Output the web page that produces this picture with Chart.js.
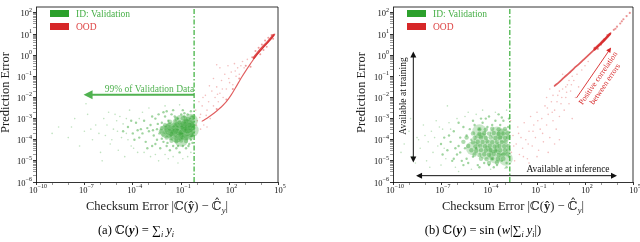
<!DOCTYPE html><html><head>
<meta charset="utf-8">
<title>Checksum error vs prediction error</title>
<style>
  body { margin: 0; background: #fff; width: 640px; height: 242px; position: relative; overflow: hidden; }
  canvas { position: absolute; top: 0; }
</style>
</head>
<body>
<canvas id="left" width="320" height="242" style="left:0"></canvas>
<canvas id="right" width="320" height="242" style="left:320px"></canvas>
<script src="https://cdn.jsdelivr.net/npm/chart.js"></script>
<script>
// all values are log10 exponents: [log10 checksum error, log10 prediction error]
const xTickExps = [-10, -7, -4, -1, 2, 5];
const yTickExps = [-6, -5, -4, -3, -2, -1, 0, 1, 2];
const seriesNames = ['ID: Validation', 'OOD'];
const thresholdA = -0.2;   // 99% of validation data, panel (a)
const thresholdB = -2.7;   // panel (b)

// panel (a)
const idBlobA = [[-1.6,-3.5],[-1.1,-3.45],[-0.6,-3.35],[-1.3,-3.8],[-0.7,-3.7],[-1.9,-3.6],[-0.4,-3.1],
  [-1.0,-3.15],[-1.0,-4.0],[-0.35,-3.55]];
const idCoreA = [[-1.3,-3.0],[-0.9,-2.98],[-0.6,-3.02],[-0.35,-2.95],
  [-1.7,-3.15],[-1.4,-3.14],[-1.1,-3.17],[-0.8,-3.13],[-0.5,-3.16],[-0.28,-3.12],
  [-2.0,-3.3],[-1.75,-3.28],[-1.5,-3.32],[-1.25,-3.29],[-1.0,-3.31],[-0.75,-3.27],[-0.5,-3.3],[-0.3,-3.28],
  [-2.2,-3.45],[-1.95,-3.44],[-1.7,-3.47],[-1.45,-3.43],[-1.2,-3.46],[-0.95,-3.44],[-0.7,-3.46],[-0.45,-3.43],[-0.25,-3.45],
  [-2.25,-3.6],[-2.0,-3.62],[-1.75,-3.58],[-1.5,-3.61],[-1.25,-3.59],[-1.0,-3.62],[-0.75,-3.6],[-0.5,-3.58],[-0.27,-3.6],
  [-2.1,-3.75],[-1.85,-3.77],[-1.6,-3.74],[-1.35,-3.76],[-1.1,-3.73],[-0.85,-3.76],[-0.6,-3.74],[-0.35,-3.77],
  [-1.9,-3.9],[-1.65,-3.92],[-1.4,-3.89],[-1.15,-3.91],[-0.9,-3.9],[-0.65,-3.88],[-0.4,-3.91],
  [-1.6,-4.05],[-1.3,-4.07],[-1.0,-4.04],[-0.7,-4.06]];
const idMidA = [[-4.3,-3.4],[-4.0,-3.7],[-3.8,-3.2],[-3.6,-3.9],[-3.5,-3.5],[-3.3,-3.1],[-3.2,-4.1],
  [-3.0,-3.6],[-2.9,-3.3],[-2.8,-4.3],[-2.7,-3.8],[-2.6,-3.0],[-2.5,-4.0],[-2.5,-3.5],[-2.4,-2.8],
  [-2.3,-4.4],[-2.2,-3.2],[-2.1,-4.1],[-2.0,-2.9],[-1.9,-4.3],[-1.8,-3.1],[-1.7,-4.5],[-1.6,-2.8],
  [-1.5,-4.3],[-1.4,-2.9],[-1.3,-4.4],[-1.2,-3.0],[-1.1,-4.6],[-1.0,-2.8],[-0.9,-4.3],[-0.8,-2.9],
  [-0.7,-4.4],[-0.6,-2.8],[-0.5,-4.2],[-0.45,-3.0],[-0.4,-4.0],[-0.3,-2.9],[-0.3,-3.8],[-0.25,-3.4],
  [-0.22,-3.0],[-0.22,-3.7],[-2.8,-2.9],[-3.1,-4.4],[-3.9,-4.0],[-4.6,-3.6],[-1.5,-2.6],[-0.9,-2.6],[-0.4,-2.65],
  [-3.4,-3.7],[-3.1,-3.45],[-2.75,-3.55],[-2.6,-4.2],[-2.35,-3.7],[-2.2,-3.95],[-2.45,-3.25],[-2.1,-2.7],
  [-1.85,-4.15],[-1.2,-4.3],[-0.55,-4.3],[-0.3,-4.15],[-0.8,-2.75],[-1.9,-2.65],[-4.1,-3.1],[-3.7,-3.55]];
const idSparseA = [[-8.6,-3.4],[-8.0,-3.9],[-7.6,-3.0],[-7.3,-4.3],[-7.0,-3.6],[-6.8,-2.8],[-6.5,-4.0],
  [-6.3,-3.3],[-6.0,-4.6],[-5.8,-3.0],[-5.7,-3.8],[-5.5,-2.7],[-5.4,-4.2],[-5.2,-3.5],[-5.0,-3.1],
  [-4.9,-4.5],[-4.8,-2.9],[-4.7,-3.9],[-4.5,-4.8],[-4.4,-3.0],[-4.2,-2.6],[-4.1,-4.3],[-3.7,-4.6],
  [-3.4,-2.7],[-2.9,-4.8],[-2.4,-5.0],[-1.8,-4.9],[-1.2,-5.1],[-0.6,-4.8],[-3.0,-2.5],[-2.0,-2.4],
  [-1.1,-2.35],[-6.9,-2.3],[-9.0,-3.7],[-5.9,-5.0],[-6.1,-3.7],[-5.6,-3.3],[-5.3,-4.0],[-4.95,-3.6],
  [-4.6,-3.25],[-4.3,-4.0],[-3.95,-4.4],[-3.6,-3.0],[-3.3,-4.6],[-2.6,-4.7],[-2.0,-4.7],[-1.5,-4.8],
  [-0.9,-4.9],[-0.4,-4.6],[-7.8,-3.4],[-6.6,-3.5],[-5.1,-2.8],[-4.4,-3.7]];
const oodLineA = [[0.3,-3.12],[0.6,-2.98],[0.9,-2.82],[1.2,-2.64],[1.5,-2.44],[1.8,-2.2],[2.1,-1.88],
  [2.4,-1.5],[2.7,-1.1],[3.0,-0.74],[3.3,-0.4],[3.6,-0.07],[3.9,0.2],[4.2,0.46],[4.5,0.72],[4.8,1.0]];
const oodThickA = [[3.5,-0.12],[3.8,0.16],[4.1,0.42],[4.4,0.66],[4.72,0.95]];
const oodBandA = [[3.4,-0.1],[3.6,0.2],[3.8,0.35],[4.0,0.5],[4.2,0.7],[4.4,0.82],[3.9,0.05],[4.1,0.25],
  [4.3,0.4],[3.3,-0.55],[3.0,-0.5],[2.6,-1.1],[2.2,-1.6],[1.8,-2.1],[1.2,-2.55],[4.6,0.95],[4.7,0.78]];
const oodCloudA = [[-0.1,-2.6],[0.0,-3.1],[0.1,-2.2],[0.2,-2.8],[0.3,-2.4],[0.4,-3.3],[0.5,-1.9],
  [0.6,-2.6],[0.7,-2.2],[0.8,-3.0],[0.9,-1.7],[1.0,-2.4],[1.1,-2.0],[1.2,-1.5],[1.3,-2.2],[1.4,-0.6],
  [1.4,-1.8],[1.5,-1.2],[1.6,-2.0],[1.7,-0.9],[1.8,-1.6],[1.9,-0.5],[2.0,-1.3],[2.1,-0.8],[2.2,-1.4],
  [2.3,-0.4],[2.4,-1.0],[2.5,-0.6],[2.6,-0.9],[2.8,-0.3],[2.9,-0.6],[3.1,-0.2],[1.2,-0.45],[0.6,-3.4],
  [-0.05,-3.3],[0.2,-3.5],[1.0,-1.1],[2.7,-0.5],[0.35,-2.0],[0.75,-1.45],[1.55,-1.6],[1.95,-1.1],
  [0.15,-2.95],[0.55,-2.85],[1.25,-1.85],[2.35,-0.75]];

// panel (b)
const idBlobB = [[-4.5,-4.0],[-3.8,-4.3],[-3.2,-4.4],[-3.1,-3.8],[-4.2,-4.6],[-3.6,-4.8],[-5.0,-4.4],
  [-3.5,-3.7],[-2.95,-4.9],[-4.6,-3.6]];
const idCoreB = [[-4.6,-3.5],[-4.2,-3.52],[-3.8,-3.48],[-3.4,-3.51],[-3.0,-3.49],
  [-5.0,-3.7],[-4.6,-3.72],[-4.3,-3.69],[-4.0,-3.71],[-3.7,-3.68],[-3.4,-3.72],[-3.1,-3.7],[-2.85,-3.69],
  [-5.4,-3.9],[-4.9,-3.92],[-4.5,-3.89],[-4.2,-3.91],[-3.9,-3.88],[-3.6,-3.92],[-3.3,-3.9],[-3.0,-3.91],[-2.8,-3.89],
  [-5.6,-4.1],[-5.0,-4.12],[-4.7,-4.09],[-4.4,-4.11],[-4.1,-4.08],[-3.8,-4.12],[-3.5,-4.1],[-3.2,-4.11],[-2.95,-4.09],
  [-5.3,-4.3],[-4.85,-4.32],[-4.55,-4.29],[-4.25,-4.31],[-3.95,-4.28],[-3.65,-4.32],[-3.35,-4.3],[-3.05,-4.31],[-2.8,-4.29],
  [-5.1,-4.5],[-4.8,-4.52],[-4.5,-4.49],[-4.2,-4.51],[-3.9,-4.48],[-3.6,-4.52],[-3.3,-4.5],[-3.0,-4.49],[-2.78,-4.5],
  [-4.9,-4.7],[-4.6,-4.72],[-4.3,-4.69],[-4.0,-4.71],[-3.7,-4.68],[-3.4,-4.72],[-3.1,-4.7],[-2.85,-4.69],
  [-4.5,-4.9],[-4.15,-4.92],[-3.8,-4.89],[-3.45,-4.91],[-3.1,-4.9],[-4.0,-5.1],[-3.5,-5.08]];
const idMidB = [[-6.4,-4.1],[-6.2,-3.6],[-6.0,-4.7],[-5.9,-4.3],[-5.8,-3.9],[-5.7,-5.0],[-5.6,-3.4],
  [-5.5,-4.4],[-5.4,-3.8],[-5.3,-5.1],[-5.2,-3.5],[-5.1,-4.0],[-5.0,-4.8],[-4.9,-3.3],[-4.8,-4.4],
  [-4.7,-5.2],[-4.6,-3.5],[-4.4,-3.2],[-4.3,-5.1],[-4.1,-3.4],[-4.0,-5.2],[-3.8,-3.3],[-3.8,-4.9],
  [-3.6,-3.1],[-3.5,-5.2],[-3.3,-3.3],[-3.2,-5.0],[-3.1,-3.1],[-2.9,-5.1],[-2.8,-3.4],[-2.75,-4.8],
  [-2.75,-3.0],[-6.6,-4.5],[-6.8,-3.9],[-4.5,-3.0],[-4.0,-2.9],[-3.4,-2.8],[-5.6,-5.2],[-6.3,-5.0],
  [-7.0,-4.2],[-6.5,-3.8],[-6.1,-4.4],[-5.9,-3.2],[-5.4,-4.9],[-5.0,-3.1],[-4.6,-5.3],[-4.2,-3.0],
  [-3.7,-5.3],[-3.2,-2.95],[-2.9,-5.3],[-6.9,-4.7],[-6.2,-4.9],[-5.8,-4.6]];
const idSparseB = [[-9.3,-4.2],[-9.0,-3.6],[-8.8,-4.8],[-8.5,-3.9],[-8.3,-4.4],[-8.1,-3.3],[-7.9,-5.0],
  [-7.8,-4.1],[-7.6,-3.6],[-7.5,-4.6],[-7.3,-3.1],[-7.2,-4.3],[-7.0,-5.2],[-6.9,-3.5],[-6.7,-4.9],
  [-6.5,-3.2],[-7.7,-5.3],[-8.6,-5.1],[-6.1,-5.3],[-5.5,-2.9],[-6.0,-3.0],[-4.8,-2.8],[-5.1,-5.4],
  [-3.9,-5.4],[-3.0,-5.35],[-8.9,-3.0],[-6.6,-2.4],[-2.9,-2.6],[-8.0,-3.8],[-7.4,-3.9],[-7.1,-3.4],
  [-6.8,-4.4],[-6.4,-3.5],[-8.4,-4.0],[-9.5,-4.6],[-5.3,-2.7],[-4.4,-2.6],[-3.6,-2.7],[-5.9,-5.5]];
const oodLineB = [[0.1,-1.45],[0.4,-1.26],[0.7,-1.05],[1.0,-0.85],[1.3,-0.63],[1.6,-0.43],[1.9,-0.22],
  [2.2,-0.01],[2.5,0.2],[2.8,0.41],[3.1,0.62],[3.35,0.83],[3.6,1.04]];
const oodThickB = [[2.6,0.28],[2.9,0.5],[3.2,0.72],[3.55,1.0]];
const oodBandB = [[3.0,0.5],[3.2,0.75],[3.4,0.95],[2.8,0.3],[2.6,0.35],
  [3.8,1.2],[4.0,1.35],[4.2,1.5],[4.4,1.7],[4.6,1.85],[4.8,2.0],[3.9,1.25],[4.3,1.6]];
const oodCloudB = [[-2.6,-4.6],[-2.5,-3.8],[-2.4,-5.0],[-2.3,-4.2],[-2.2,-3.4],[-2.1,-4.7],[-2.0,-3.9],
  [-1.9,-4.4],[-1.8,-3.2],[-1.7,-4.0],[-1.6,-4.9],[-1.5,-3.6],[-1.4,-2.9],[-1.3,-4.3],[-1.2,-3.3],
  [-1.1,-3.9],[-1.0,-2.7],[-0.9,-4.5],[-0.8,-3.5],[-0.7,-3.0],[-0.6,-4.1],[-0.5,-2.4],[-0.4,-3.3],
  [-0.3,-2.8],[-0.2,-3.9],[-0.1,-2.2],[0.0,-3.1],[0.1,-2.6],[0.2,-3.5],[0.3,-1.9],[0.4,-2.9],[0.5,-2.3],
  [0.6,-1.6],[0.7,-2.6],[0.8,-2.0],[0.9,-1.4],[1.0,-2.3],[1.1,-1.7],[1.3,-1.2],[1.4,-2.0],[1.6,-1.5],
  [-2.65,-3.1],[-1.5,-5.1],[-0.3,-4.6],[0.4,-4.0],[1.2,-3.0],[0.0,-1.9],[0.4,-1.7],[0.8,-1.5],
  [1.0,-1.2],[1.2,-1.0],[1.5,-0.9],[0.6,-0.9],[1.8,-0.7],[2.0,-0.5],[2.2,-0.3],[-0.2,-1.6],[-0.4,-2.0],
  [-2.45,-4.3],[-2.15,-3.7],[-1.85,-4.8],[-1.55,-4.2],[-1.25,-3.6],[-0.95,-3.1],[-0.65,-3.7],
  [-0.35,-2.5],[-0.05,-2.7],[0.25,-2.2],[0.55,-2.0],[0.85,-1.75],[1.15,-1.4],[-1.0,-4.8],[0.1,-4.2]];

// annotations (log10 coords)
const arrow99 = { y: -1.87, from: thresholdA, to: -7.05 };
const trainArrow = { x: -8.73, from: -5.08, to: 0.17 };
const inferArrow = { y: -5.70, from: -8.56, to: 4.0 };
const corrArrow = { x0: 1.47, y0: -2.02, x1: 3.63, y1: 0.36 };

const X_MIN = -10, X_MAX = 5, Y_MIN = -6, Y_MAX = 2.28;
const GREEN = [44, 160, 44], RED = [214, 39, 40];
const SERIF = "'Liberation Serif','DejaVu Serif',serif";
const F = (n, s) => (s ? s + ' ' : '') + n + 'px ' + SERIF;
const rgba = (c, a) => 'rgba(' + c.join(',') + ',' + a + ')';
const isPow10 = v => { const l = Math.log10(v); return Math.abs(l - Math.round(l)) < 1e-9; };

function pts(arr) { return arr.map(p => ({ x: 10 ** p[0], y: 10 ** p[1] })); }
function dots(arr, c, a, r) {
  return { type: 'scatter', data: pts(arr), backgroundColor: rgba(c, a), borderWidth: 0,
    pointRadius: r, pointHoverRadius: r, pointBorderWidth: 0 };
}
function band(arr, c, a, w) {
  return { type: 'line', data: pts(arr), borderColor: rgba(c, a), borderWidth: w, pointRadius: 0,
    fill: false, tension: 0.4, cubicInterpolationMode: 'monotone', borderCapStyle: 'round' };
}

function logAxis(pos, lo, hi, size, minor) {
  return {
    type: 'logarithmic', position: pos, min: 10 ** lo, max: 10 ** hi,
    afterBuildTicks: s => {
      const t = [];
      for (let e = Math.ceil(lo); e <= Math.floor(hi); e++) {
        t.push({ value: 10 ** e });
        if (minor) for (let k = 2; k < 10; k++) if (e + Math.log10(k) < hi) t.push({ value: k * 10 ** e });
      }
      s.ticks = t;
    },
    afterFit: s => { if (pos === 'left') s.width = size; else s.height = size; },
    ticks: { display: false, autoSkip: false },
    grid: { drawOnChartArea: false, tickLength: 3, tickColor: '#000',
      tickWidth: c => (c.tick && isPow10(c.tick.value) && (pos === 'left' || xTickExps.includes(Math.round(Math.log10(c.tick.value))))) ? 0.8 : 0.4 },
    border: { color: '#000', width: 0.8 }
  };
}

function rich(ctx, parts, x, y, align) {
  ctx.textAlign = 'left';
  let w = 0;
  parts.forEach(p => { ctx.font = p[1]; w += ctx.measureText(p[0]).width; });
  let cx = align === 'center' ? x - w / 2 : (align === 'right' ? x - w : x);
  parts.forEach(p => { ctx.font = p[1]; ctx.fillText(p[0], cx, y + (p[2] || 0)); cx += ctx.measureText(p[0]).width; });
}

function head(ctx, x1, y1, x2, y2, len, half) {
  const a = Math.atan2(y2 - y1, x2 - x1), c = Math.cos(a), s = Math.sin(a);
  ctx.beginPath();
  ctx.moveTo(x2, y2);
  ctx.lineTo(x2 - len * c + half * s, y2 - len * s - half * c);
  ctx.lineTo(x2 - len * c - half * s, y2 - len * s + half * c);
  ctx.closePath();
  ctx.fill();
}
function arrow(ctx, x1, y1, x2, y2, len, half, both) {
  const a = Math.atan2(y2 - y1, x2 - x1);
  ctx.beginPath();
  ctx.moveTo(x1 + (both ? len * 0.6 * Math.cos(a) : 0), y1 + (both ? len * 0.6 * Math.sin(a) : 0));
  ctx.lineTo(x2 - len * 0.6 * Math.cos(a), y2 - len * 0.6 * Math.sin(a));
  ctx.stroke();
  head(ctx, x1, y1, x2, y2, len, half);
  if (both) head(ctx, x2, y2, x1, y1, len, half);
}

function decor(cfg) {
  return {
    id: 'decor',
    afterDraw(chart) {
      const ctx = chart.ctx, a = chart.chartArea, sx = chart.scales.x, sy = chart.scales.y;
      const X = e => sx.getPixelForValue(10 ** e), Y = e => sy.getPixelForValue(10 ** e);
      ctx.save();
      // frame top/right
      ctx.strokeStyle = '#000'; ctx.lineWidth = 0.8;
      ctx.beginPath(); ctx.moveTo(a.left, a.top); ctx.lineTo(a.right, a.top); ctx.lineTo(a.right, a.bottom); ctx.stroke();
      // tick labels
      ctx.fillStyle = '#111'; ctx.textBaseline = 'alphabetic';
      yTickExps.forEach(e => {
        rich(ctx, [['10', F(8.5)], [String(e).replace('-', '\u2212'), F(6), -4.5]], a.left - 4, Y(e) + 3.5, 'right');
      });
      xTickExps.forEach(e => {
        rich(ctx, [['10', F(8.5)], [String(e).replace('-', '\u2212'), F(6), -4.5]], X(e) + 2, a.bottom + 10.5, 'center');
      });
      // axis titles
      ctx.fillStyle = '#222';
      ctx.save();
      ctx.translate(cfg.yTitleX, (a.top + a.bottom) / 2 - 2);
      ctx.rotate(-Math.PI / 2);
      ctx.textAlign = 'center'; ctx.textBaseline = 'middle'; ctx.font = F(12.5);
      ctx.fillText('Prediction Error', 0, 0);
      ctx.restore();
      ctx.textBaseline = 'alphabetic';
      rich(ctx, [['Checksum Error |\u2102(', F(12.5)], ['\u0177', F(12.5, 'bold')], [') \u2212 \u2102\u0302', F(12.5)],
        ['y', F(8.5, 'italic'), 3], ['|', F(12.5)]], (a.left + a.right) / 2, 210, 'center');
      // caption
      ctx.fillStyle = '#000';
      rich(ctx, cfg.caption, cfg.captionX, 234, 'center');
      // legend
      const items = [[seriesNames[0], GREEN, [70, 175, 70]], [seriesNames[1], RED, [222, 70, 70]]];
      items.forEach((it, i) => {
        const ty = 13.5 + i * 13;
        ctx.fillStyle = rgba(it[1], 1);
        ctx.fillRect(cfg.legendX, ty - 3.5, 19, 7);
        ctx.fillStyle = rgba(it[2], 1);
        ctx.font = F(9.5); ctx.textAlign = 'left'; ctx.textBaseline = 'middle';
        ctx.fillText(it[0], cfg.legendX + 26, ty + 0.5);
      });
      cfg.extra(ctx, X, Y, a);
      ctx.restore();
    }
  };
}

function makeChart(id, data, cfg) {
  return new Chart(document.getElementById(id), {
    type: 'scatter',
    data: { datasets: data },
    options: {
      responsive: false, animation: false, devicePixelRatio: 1, events: [],
      layout: { padding: { left: 0, right: cfg.padRight, top: 1, bottom: 0 } },
      plugins: { legend: { display: false }, tooltip: { enabled: false } },
      scales: { x: logAxis('bottom', X_MIN, X_MAX, 60, false), y: logAxis('left', Y_MIN, Y_MAX, cfg.yWidth, true) }
    },
    plugins: [decor(cfg)]
  });
}

function threshold(t) {
  return { type: 'line', data: [{ x: 10 ** t, y: 10 ** Y_MIN }, { x: 10 ** t, y: 10 ** Y_MAX }],
    borderColor: 'rgb(70,180,70)', borderWidth: 1.3, borderDash: [5, 2, 1.5, 2], pointRadius: 0, fill: false };
}

makeChart('left', [
  threshold(thresholdA),
  band(oodThickA, RED, 0.8, 2.4),
  band(oodLineA, RED, 0.75, 1.1),
  dots(oodBandA, RED, 0.45, 1.0),
  dots(oodCloudA, RED, 0.3, 0.8),
  dots(idSparseA, GREEN, 0.3, 0.8),
  dots(idMidA, GREEN, 0.45, 1.2),
  dots(idCoreA, GREEN, 0.35, 2.2),
  dots(idBlobA, GREEN, 0.3, 7)
], {
  padRight: 42, yWidth: 36, yTitleX: 6, captionX: 136, legendX: 50,
  caption: [['(a) \u2102(', F(12.5)], ['y', F(12.5, 'italic bold')], [') = \u2211', F(12.5)], ['i', F(8, 'italic'), 3],
    [' y', F(12.5, 'italic')], ['i', F(8, 'italic'), 3]],
  extra(ctx, X, Y, a) {
    const c = 'rgb(80,178,80)';
    ctx.strokeStyle = c; ctx.fillStyle = c; ctx.lineWidth = 2;
    arrow(ctx, X(arrow99.from), Y(arrow99.y), X(arrow99.to), Y(arrow99.y), 9, 4.5, false);
    ctx.font = F(9.5); ctx.textAlign = 'right'; ctx.textBaseline = 'alphabetic';
    ctx.fillText('99% of Validation Data', X(arrow99.from), Y(arrow99.y) - 3);
  }
});

makeChart('right', [
  threshold(thresholdB),
  band(oodThickB, RED, 0.85, 2.6),
  band(oodLineB, RED, 0.75, 1.7),
  dots(oodBandB, RED, 0.5, 1.1),
  dots(oodCloudB, RED, 0.3, 0.8),
  dots(idSparseB, GREEN, 0.3, 0.8),
  dots(idMidB, GREEN, 0.45, 1.2),
  dots(idCoreB, GREEN, 0.38, 2.2),
  dots(idBlobB, GREEN, 0.25, 7)
], {
  padRight: 6, yWidth: 73, yTitleX: 42, captionX: 163, legendX: 87,
  caption: [['(b) \u2102(', F(12.5)], ['y', F(12.5, 'italic bold')], [') = sin ', F(12.5)], ['(', F(13)], ['w', F(12.5, 'italic')],
    ['|\u2211', F(12.5)], ['i', F(8, 'italic'), 3], [' y', F(12.5, 'italic')], ['i', F(8, 'italic'), 3], ['|)', F(12.5)]],
  extra(ctx, X, Y, a) {
    ctx.strokeStyle = '#111'; ctx.fillStyle = '#111'; ctx.lineWidth = 1;
    arrow(ctx, X(trainArrow.x), Y(trainArrow.from), X(trainArrow.x), Y(trainArrow.to), 6, 3, true);
    arrow(ctx, X(inferArrow.from), Y(inferArrow.y), X(inferArrow.to), Y(inferArrow.y), 6, 3, true);
    ctx.font = F(9.5); ctx.textBaseline = 'alphabetic'; ctx.textAlign = 'center';
    ctx.fillText('Available at inference', 248, Y(inferArrow.y) - 4);
    ctx.save();
    ctx.translate(X(trainArrow.x) - 5, 96); ctx.rotate(-Math.PI / 2);
    ctx.textBaseline = 'bottom';
    ctx.fillText('Available at training', 0, 0);
    ctx.restore();
    // correlation arrow
    const x0 = X(corrArrow.x0), y0 = Y(corrArrow.y0), x1 = X(corrArrow.x1), y1 = Y(corrArrow.y1);
    ctx.strokeStyle = 'rgb(214,39,40)'; ctx.fillStyle = 'rgb(214,39,40)'; ctx.lineWidth = 0.9;
    arrow(ctx, x0, y0, x1, y1, 5, 2.5, false);
    ctx.save();
    ctx.translate((x0 + x1) / 2, (y0 + y1) / 2); ctx.rotate(Math.atan2(y1 - y0, x1 - x0));
    ctx.font = F(8); ctx.textAlign = 'center'; ctx.textBaseline = 'middle';
    ctx.fillText('Positive correlation', -2, 7);
    ctx.fillText('between errors', -3, 16);
    ctx.restore();
  }
});
</script>
</body></html>
